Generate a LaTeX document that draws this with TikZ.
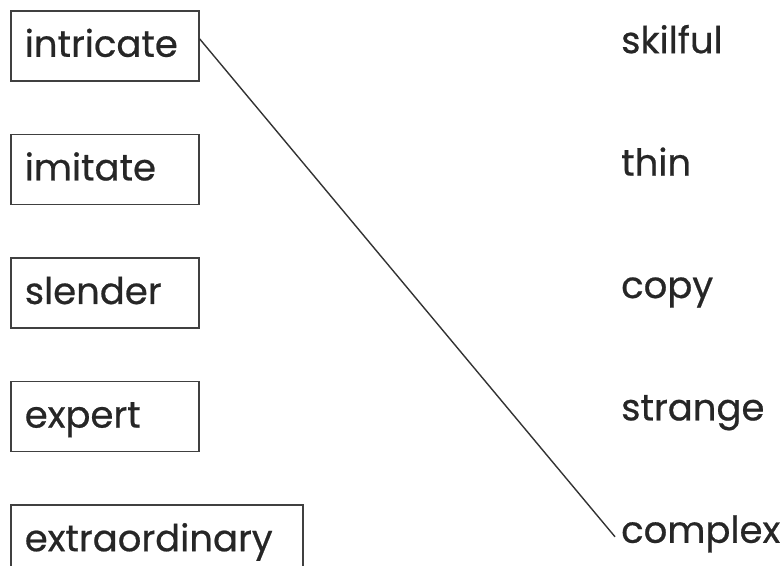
\documentclass[tikz,border=0pt]{standalone}
\usepackage{fontspec}
\setmainfont{Poppins}[FakeBold=0.6]
\usetikzlibrary{positioning}

\tikzset{
	wordbox/.style={draw=black!75, line width=1.6pt, text width=#1, inner xsep=14pt, inner ysep=15pt, text height=31pt, text depth=9pt, font=\fontsize{37}{40}\selectfont},
	wordbox/.default=160pt,
	match/.style={inner sep=0pt, text height=31pt, text depth=9pt, font=\fontsize{37}{40}\selectfont},
}

\begin{document}
\begin{tikzpicture}[x=1pt, y=1pt, node distance=52pt, text=black!85]
	\useasboundingbox (0,0) rectangle (783,565);
	\node[wordbox, anchor=north west] (intricate) at (10,555) {intricate};
	\node[wordbox, below=of intricate.south west, anchor=north west] (imitate) {imitate};
	\node[wordbox, below=of imitate.south west, anchor=north west] (slender) {slender};
	\node[wordbox, below=of slender.south west, anchor=north west] (expert) {expert};
	\node[wordbox=264pt, below=of expert.south west, anchor=north west] (extraordinary) {extraordinary};
	% right column
	\node[match, anchor=north west] (skilful) at (621,543) {skilful};
	\node[match, below=82pt of skilful.south west, anchor=north west] (thin) {thin};
	\node[match, below=82pt of thin.south west, anchor=north west] (copy) {copy};
	\node[match, below=82pt of copy.south west, anchor=north west] (strange) {strange};
	\node[match, below=82pt of strange.south west, anchor=north west] (complex) {complex};
	\draw[black!80, line width=1.4pt] ([yshift=7pt]intricate.east) -- ([xshift=-6pt, yshift=-5pt]complex.west);
\end{tikzpicture}
\end{document}
